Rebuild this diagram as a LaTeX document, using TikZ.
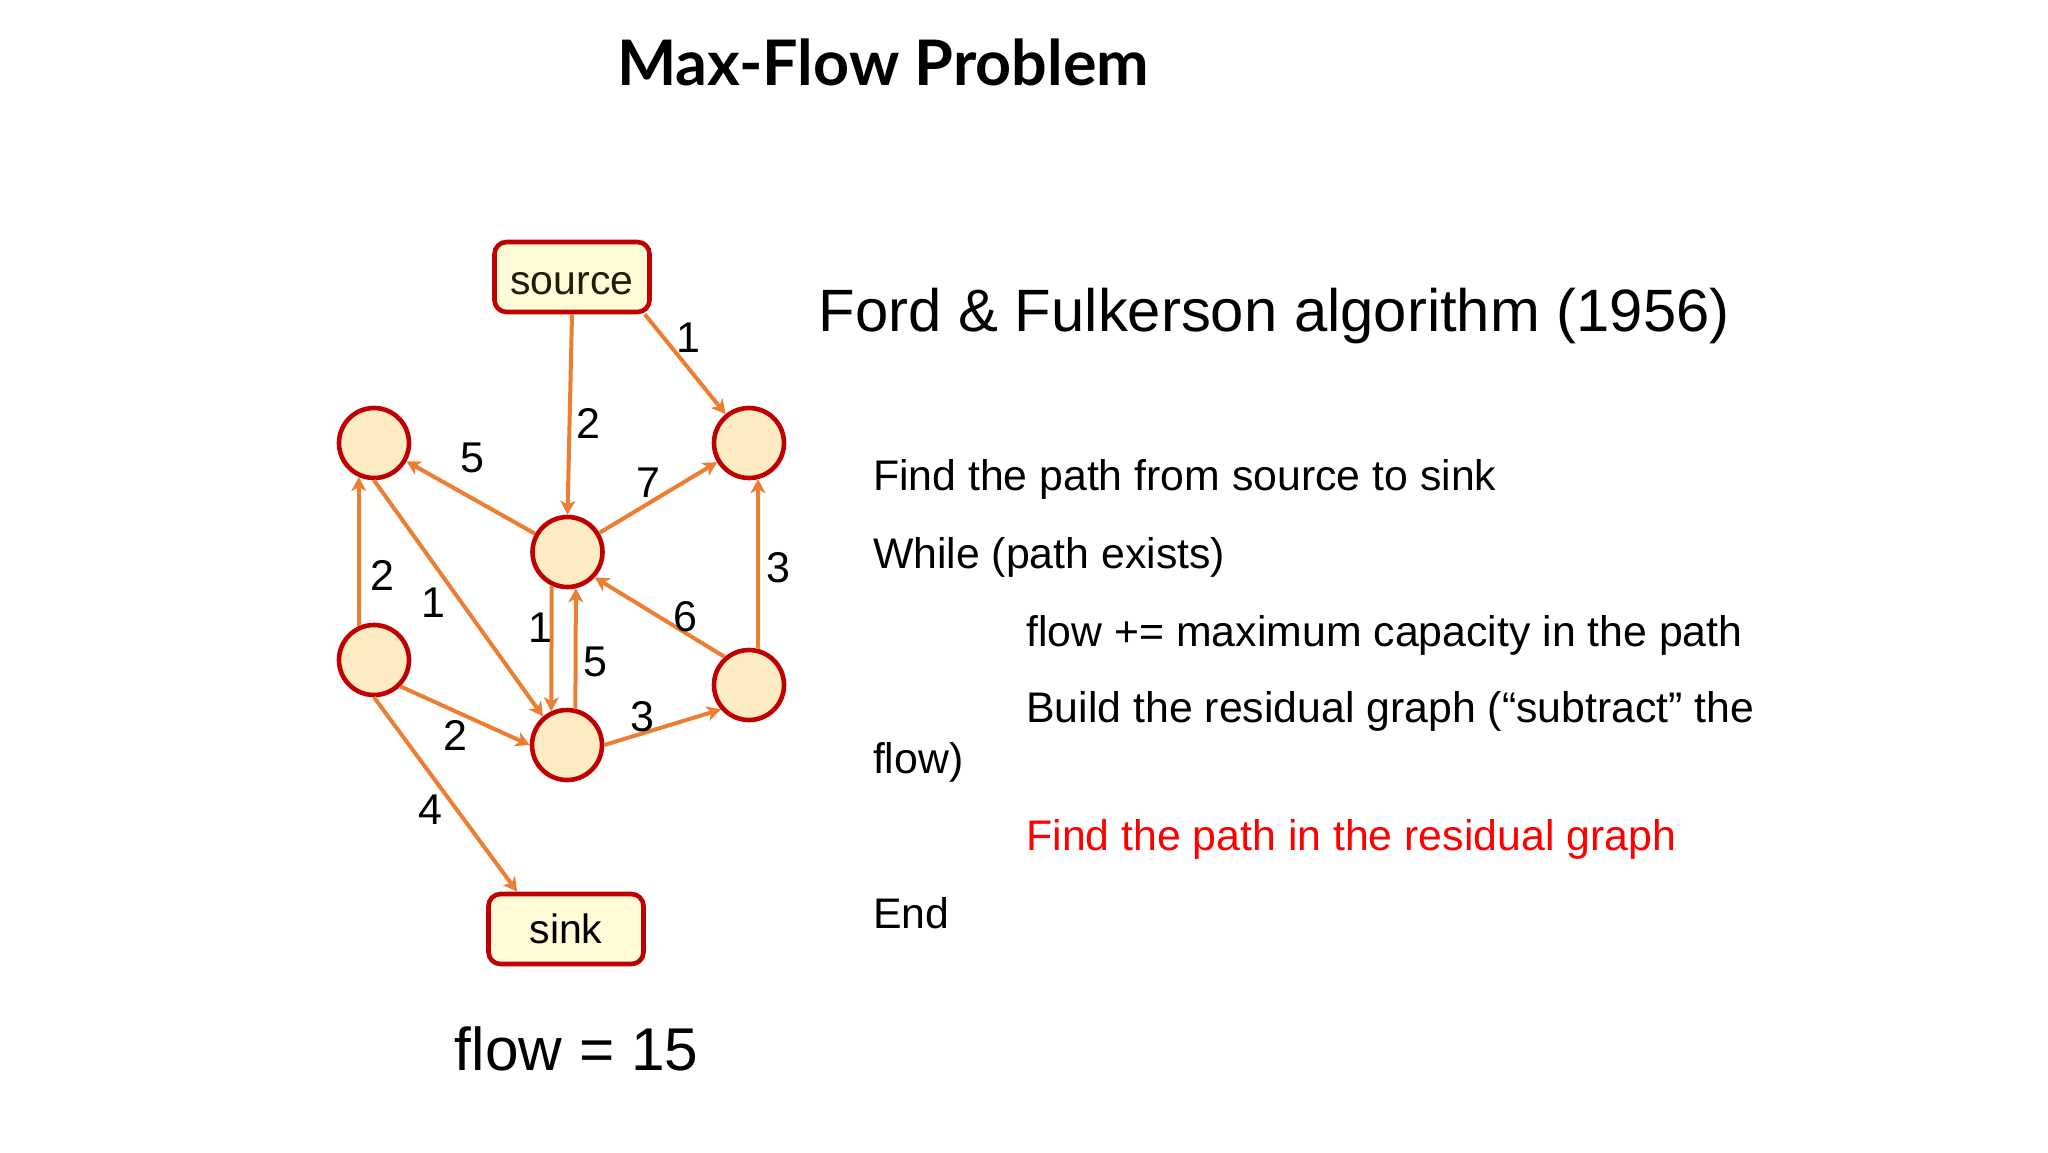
\documentclass[tikz,border=0pt]{standalone}
\usepackage{fontspec}
\setmainfont{Liberation Sans}
\newfontfamily\titlefont{Lato}
\usetikzlibrary{arrows.meta}
\definecolor{edgeor}{HTML}{ED7D31}
\definecolor{bord}{HTML}{C00000}
\definecolor{circfill}{HTML}{FDEBC3}
\definecolor{boxfill}{HTML}{FFFBD6}
\definecolor{srctext}{HTML}{1E1E0A}
\definecolor{redtext}{HTML}{FF0000}
\begin{document}
\begin{tikzpicture}[x=0.5pt,y=-0.5pt,
  vert/.style={circle,draw=bord,fill=circfill,line width=2.3pt,minimum size=35pt,inner sep=0pt},
  term/.style={rectangle,rounded corners=6pt,draw=bord,fill=boxfill,line width=2.3pt,minimum width=77.5pt,minimum height=35pt,inner sep=0pt,font=\fontsize{20.5}{24}\selectfont},
  flowarrow/.style={draw=edgeor,line width=2pt,-{Stealth[length=7pt,width=7.5pt,inset=2pt]}},
  wlabel/.style={inner sep=0pt,font=\fontsize{21.5}{25}\selectfont},
  algo/.style={anchor=base west,inner sep=0pt,font=\fontsize{21.4}{25}\selectfont}]
\fill[white] (0,0) rectangle (2048,1152);
\useasboundingbox (0,0) rectangle (2048,1152);

% title
\node[anchor=base,inner sep=0pt,font=\titlefont\bfseries\fontsize{31.4}{36}\selectfont] (title) at (883,85.7) {Max-Flow Problem};

% graph nodes
\node[term,text=srctext] (S) at (572,277) {\raisebox{-3.3pt}[\height][0pt]{source}};
\node[term] (K) at (566,929) {sink};
\node[vert] (TL) at (374,443) {};
\node[vert] (TR) at (749,443) {};
\node[vert] (M) at (567.5,552) {};
\node[vert] (BL) at (374,660) {};
\node[vert] (BM) at (567,745) {};
\node[vert] (BR) at (749,685) {};

% edges
\draw[flowarrow] (S.south) -- (M.north);
\draw[flowarrow] ([xshift=-3.5pt]S.south east) -- (TR);
\draw[flowarrow] (M) -- (TL);
\draw[flowarrow] (M) -- (TR);
\draw[flowarrow] (BR.76) -- (TR.284);
\draw[flowarrow] (BL.114) -- (TL.246);
\draw[flowarrow] (TL.south) -- (BM.130);
\draw[flowarrow] (BL.-45) -- (BM.west);
\draw[flowarrow] (BL.south) -- ([xshift=15.5pt]K.north west);
\draw[flowarrow] (M.245) -- (BM.115);
\draw[flowarrow] (BM.77) -- (M.283);
\draw[flowarrow] (BR.131) -- (M.-43);
\draw[flowarrow] (BM.east) -- (BR.221);

% capacities
\node[wlabel] (c1) at (688,338) {1};
\node[wlabel] (c2) at (588,423) {2};
\node[wlabel] (c3) at (472,458) {5};
\node[wlabel] (c4) at (648,483) {7};
\node[wlabel] (c5) at (778,568) {3};
\node[wlabel] (c6) at (382,575) {2};
\node[wlabel] (c7) at (433,603) {1};
\node[wlabel] (c8) at (685,617) {6};
\node[wlabel] (c9) at (540,628) {1};
\node[wlabel] (c10) at (595,662) {5};
\node[wlabel] (c11) at (642,717) {3};
\node[wlabel] (c12) at (455,735) {2};
\node[wlabel] (c13) at (430,810) {4};

% flow
\node[anchor=base west,inner sep=0pt,font=\fontsize{30.2}{34}\selectfont] (flowval) at (454.5,1070) {flow = 15};

% right text
\node[anchor=base west,inner sep=0pt,font=\fontsize{29.9}{34}\selectfont] (ford) at (818.5,331.7) {Ford \& Fulkerson algorithm (1956)};
\node[algo] (a1) at (872.6,490.7) {Find the path from source to sink};
\node[algo] (a2) at (872.6,568.3) {While (path exists)};
\node[algo] (a3) at (1026,646) {flow += maximum capacity in the path};
\node[algo] (a4) at (1026,722) {Build the residual graph (“subtract” the};
\node[algo] (a5) at (872.6,773) {flow)};
\node[algo,text=redtext] (a6) at (1026,850) {Find the path in the residual graph};
\node[algo] (a7) at (872.6,928) {End};
\end{tikzpicture}
\end{document}
